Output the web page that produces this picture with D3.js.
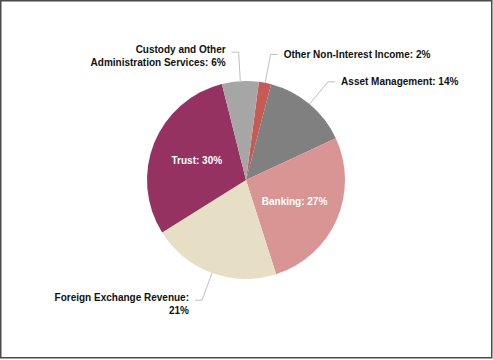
<!DOCTYPE html>
<html>
<head>
<meta charset="utf-8">
<script src="https://cdn.jsdelivr.net/npm/d3@7"></script>
<style>
  html, body { margin: 0; padding: 0; background: #fff; }
  svg { display: block; }
  text { font-family: "Liberation Sans", Arial, sans-serif; font-weight: bold; font-size: 10px; }
</style>
</head>
<body>
<svg id="chart" width="493" height="360"></svg>
<script>
// ---- data ----
const categories = [
  "Other Non-Interest Income",
  "Asset Management",
  "Banking",
  "Foreign Exchange Revenue",
  "Trust",
  "Custody and Other Administration Services"
];
const values = [2, 14, 27, 21, 30, 6];
const labelLines = [
  ["Other Non-Interest Income: 2%"],
  ["Asset Management: 14%"],
  ["Banking: 27%"],
  ["Foreign Exchange Revenue:", "21%"],
  ["Trust: 30%"],
  ["Custody and Other", "Administration Services: 6%"]
];
const insideLabel = [false, false, true, false, true, false];
const colors = ["#c65a55", "#808080", "#d99594", "#e6dfc6", "#953262", "#a6a6a6"];

// ---- layout ----
const svg = d3.select("#chart");
const cx = 246, cy = 180, R = 99;

svg.append("rect")
  .attr("x", 0.75).attr("y", 0.75)
  .attr("width", 491).attr("height", 357)
  .attr("fill", "#fff")
  .attr("stroke", "#4a4a4a")
  .attr("stroke-width", 1.5);

const data = categories.map((c, i) => ({ name: c, value: values[i], lines: labelLines[i], inside: insideLabel[i], color: colors[i] }));

const start = 7.5 * Math.PI / 180;
const pie = d3.pie().value(d => d.value).sort(null)
  .startAngle(start).endAngle(start + 2 * Math.PI);
const arcs = pie(data);

const arc = d3.arc().innerRadius(0).outerRadius(R);
const inArc = d3.arc().innerRadius(53).outerRadius(53);
const edgeArc = d3.arc().innerRadius(R).outerRadius(R);
const elbowArc = d3.arc().innerRadius(128).outerRadius(128);

const g = svg.append("g").attr("transform", `translate(${cx},${cy})`);

g.selectAll("path.slice").data(arcs).enter().append("path")
  .attr("class", "slice")
  .attr("d", arc)
  .attr("fill", d => d.data.color);

// inside labels
g.selectAll("text.in").data(arcs.filter(d => d.data.inside)).enter().append("text")
  .attr("class", "in")
  .attr("x", d => inArc.centroid(d)[0])
  .attr("y", d => inArc.centroid(d)[1] + 3.6)
  .attr("text-anchor", "middle")
  .attr("fill", "#fff")
  .text(d => d.data.lines[0]);

// outside labels with leader lines
const outs = arcs.filter(d => !d.data.inside);
const midA = d => (d.startAngle + d.endAngle) / 2;
const side = d => (Math.sin(midA(d)) >= 0 ? 1 : -1);

g.selectAll("polyline.lead").data(outs).enter().append("polyline")
  .attr("class", "lead")
  .attr("fill", "none")
  .attr("stroke", "#bfbfbf")
  .attr("stroke-width", 1)
  .attr("points", d => {
    const p0 = edgeArc.centroid(d);
    const p1 = elbowArc.centroid(d);
    const p2 = [p1[0] + side(d) * 7, p1[1]];
    return [p0, p1, p2].map(p => p.join(",")).join(" ");
  });

const lineH = 12.8;
outs.forEach(d => {
  const p1 = elbowArc.centroid(d);
  const s = side(d);
  const x = p1[0] + s * 13;
  const n = d.data.lines.length;
  const t = g.append("text")
    .attr("text-anchor", s > 0 ? "start" : "end")
    .attr("fill", "#111");
  d.data.lines.forEach((ln, i) => {
    const y = n === 1 ? p1[1] + 3.6 : p1[1] + 0.5 + i * lineH;
    t.append("tspan").attr("x", x).attr("y", y).text(ln);
  });
});
</script>
</body>
</html>
